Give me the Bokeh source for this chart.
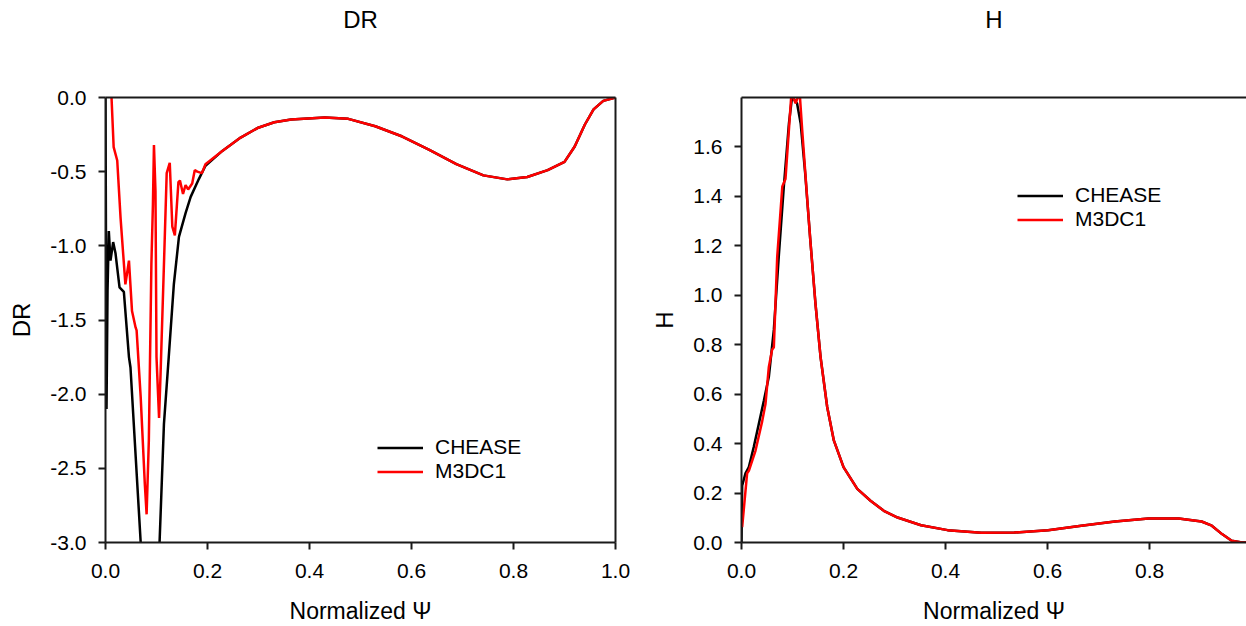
from bokeh.plotting import figure
from bokeh.models import (Range1d, FixedTicker, PrintfTickFormatter, LinearAxis,
                          Legend, LegendItem)
from bokeh.layouts import row
from bokeh.embed import file_html
from bokeh.resources import INLINE

# ---------------- data: DR panel ----------------
cheasse_dr_psi = [0.0, 0.002, 0.004, 0.0065, 0.0098, 0.015, 0.0196, 0.0275, 0.036, 0.046,
                  0.049, 0.069, 0.088, 0.106, 0.1146, 0.124, 0.134, 0.144, 0.157, 0.167,
                  0.183, 0.196, 0.229, 0.265, 0.298, 0.331, 0.364, 0.43, 0.476, 0.529,
                  0.582, 0.635, 0.688, 0.741, 0.788, 0.827, 0.867, 0.90, 0.92, 0.94,
                  0.957, 0.976, 1.0]
cheasse_dr = [0.0, -2.1, -1.3, -0.9, -1.1, -0.975, -1.05, -1.28, -1.31, -1.75,
              -1.82, -3.0, -4.2, -3.0, -2.2, -1.75, -1.26, -0.94, -0.78, -0.67,
              -0.55, -0.46, -0.36, -0.27, -0.206, -0.167, -0.148, -0.135, -0.144, -0.194,
              -0.263, -0.353, -0.449, -0.525, -0.552, -0.536, -0.49, -0.434, -0.33, -0.182,
              -0.08, -0.023, 0.0]

m3dc1_dr_psi = [0.0105, 0.0118, 0.016, 0.023, 0.0295, 0.039, 0.046, 0.052, 0.059, 0.061,
                0.069, 0.077, 0.0806, 0.085, 0.090, 0.093, 0.095, 0.098, 0.100, 0.105,
                0.108, 0.115, 0.120, 0.126, 0.131, 0.136, 0.143, 0.146, 0.152, 0.157,
                0.162, 0.170, 0.175, 0.180, 0.189, 0.196, 0.229, 0.265, 0.298, 0.331,
                0.364, 0.43, 0.476, 0.529, 0.582, 0.635, 0.688, 0.741, 0.788, 0.827,
                0.867, 0.90, 0.92, 0.94, 0.957, 0.976, 1.0]
m3dc1_dr = [0.2, 0.0, -0.335, -0.425, -0.81, -1.26, -1.10, -1.44, -1.55, -1.57,
            -2.02, -2.60, -2.81, -2.31, -1.12, -0.72, -0.32, -0.63, -1.75, -2.16,
            -1.86, -1.08, -0.51, -0.44, -0.87, -0.93, -0.57, -0.56, -0.65, -0.59,
            -0.62, -0.58, -0.49, -0.50, -0.51, -0.45, -0.36, -0.27, -0.206, -0.167,
            -0.148, -0.135, -0.144, -0.194, -0.263, -0.353, -0.449, -0.525, -0.552, -0.536,
            -0.49, -0.434, -0.33, -0.182, -0.08, -0.023, 0.0]

# ---------------- data: H panel ----------------
cheasse_h_psi = [0.0, 0.0013, 0.0078, 0.0144, 0.024, 0.034, 0.044, 0.0536, 0.0634, 0.073,
                 0.083, 0.093, 0.099, 0.104, 0.109, 0.116, 0.125, 0.135, 0.145, 0.155,
                 0.168, 0.181, 0.20, 0.227, 0.253, 0.279, 0.306, 0.352, 0.404, 0.470,
                 0.535, 0.601, 0.666, 0.732, 0.798, 0.857, 0.902, 0.922, 0.942, 0.961,
                 0.981, 0.99]
cheasse_h = [0.0, 0.23, 0.28, 0.305, 0.386, 0.48, 0.575, 0.67, 0.86, 1.155,
             1.44, 1.695, 1.80, 1.79, 1.776, 1.695, 1.49, 1.22, 0.966, 0.75,
             0.548, 0.413, 0.305, 0.217, 0.169, 0.128, 0.101, 0.070, 0.050, 0.039,
             0.040, 0.050, 0.068, 0.085, 0.097, 0.097, 0.085, 0.068, 0.034, 0.007,
             0.0, 0.0]

m3dc1_h_psi = [0.0013, 0.011, 0.0144, 0.0275, 0.0405, 0.047, 0.0536, 0.060, 0.0634, 0.070,
               0.080, 0.0862, 0.098, 0.106, 0.114, 0.119, 0.129, 0.135, 0.145, 0.155,
               0.168, 0.181, 0.20, 0.227, 0.253, 0.279, 0.306, 0.352, 0.404, 0.470,
               0.535, 0.601, 0.666, 0.732, 0.798, 0.857, 0.902, 0.922, 0.942, 0.961,
               0.981, 0.99]
m3dc1_h = [0.062, 0.28, 0.29, 0.372, 0.49, 0.56, 0.71, 0.78, 0.79, 1.155,
           1.44, 1.47, 1.82, 1.776, 1.82, 1.668, 1.385, 1.22, 0.966, 0.75,
           0.548, 0.413, 0.305, 0.217, 0.169, 0.128, 0.101, 0.070, 0.050, 0.039,
           0.040, 0.050, 0.068, 0.085, 0.097, 0.097, 0.085, 0.068, 0.034, 0.007,
           0.0, 0.0]

series_names = ["CHEASE", "M3DC1"]
series_colors = ["#000000", "#ff0000"]

dr_xticks = [0.0, 0.2, 0.4, 0.6, 0.8, 1.0]
dr_yticks = [0.0, -0.5, -1.0, -1.5, -2.0, -2.5, -3.0]
h_xticks = [0.0, 0.2, 0.4, 0.6, 0.8]
h_yticks = [0.0, 0.2, 0.4, 0.6, 0.8, 1.0, 1.2, 1.4, 1.6]

FONT = "Liberation Sans"


def style_axis(ax, ticks, label, label_size, standoff, tick_standoff):
    ax.ticker = FixedTicker(ticks=ticks)
    ax.formatter = PrintfTickFormatter(format="%.1f")
    ax.axis_line_width = 2
    ax.axis_line_color = "#1a1a1a"
    ax.major_tick_in = 0
    ax.major_tick_out = 7
    ax.major_tick_line_width = 2
    ax.major_tick_line_color = "#1a1a1a"
    ax.minor_tick_line_color = None
    ax.major_label_text_font = FONT
    ax.major_label_text_font_size = "21px"
    ax.major_label_text_color = "#000000"
    ax.major_label_standoff = tick_standoff
    ax.axis_label = label
    ax.axis_label_text_font = FONT
    ax.axis_label_text_font_size = label_size
    ax.axis_label_text_font_style = "normal"
    ax.axis_label_text_color = "#000000"
    ax.axis_label_standoff = standoff


def border_axis(p, side, label=None, standoff=0):
    ax = LinearAxis(ticker=FixedTicker(ticks=[]), axis_line_width=2,
                    axis_line_color="#1a1a1a", major_tick_line_color=None,
                    major_tick_in=0, major_tick_out=0, major_label_standoff=0,
                    minor_tick_line_color=None, major_label_text_font_size="0px")
    if label is not None:
        ax.axis_label = label
        ax.axis_label_text_font = FONT
        ax.axis_label_text_font_size = "24px"
        ax.axis_label_text_font_style = "normal"
        ax.axis_label_text_color = "#000000"
        ax.axis_label_standoff = standoff
    p.add_layout(ax, side)


def make_panel(width, x_end, y_range, xticks, yticks, title, ylabel,
               min_left, min_right, xs, ys, legend_loc, right_border):
    p = figure(width=width, height=626, output_backend="svg", toolbar_location=None,
               x_range=Range1d(0, x_end), y_range=Range1d(*y_range),
               min_border_left=min_left, min_border_right=min_right,
               min_border_top=97, min_border_bottom=84)
    p.title.visible = False
    p.outline_line_color = None
    p.xgrid.visible = False
    p.ygrid.visible = False
    p.background_fill_color = "white"
    p.border_fill_color = "white"
    style_axis(p.xaxis[0], xticks, "Normalized \u03a8", "23px", 17, 14)
    style_axis(p.yaxis[0], yticks, ylabel, "24px", 12, 12)
    border_axis(p, "above", title, 65)
    if right_border:
        border_axis(p, "right")
    items = []
    for name, color, x, y in zip(series_names, series_colors, xs, ys):
        r = p.line(x, y, line_color=color, line_width=2.5)
        items.append(LegendItem(label=name, renderers=[r]))
    legend = Legend(items=items, location=legend_loc, glyph_width=46,
                    glyph_height=23, label_height=23, label_standoff=12,
                    spacing=0, padding=0, margin=0, border_line_color=None,
                    background_fill_alpha=0, label_text_font=FONT,
                    label_text_font_size="21px", label_text_color="#000000")
    p.add_layout(legend)
    return p


p1 = make_panel(633, 1.0, (-3.0, 0.0), dr_xticks, dr_yticks, "DR", "DR", 105, 18,
                [cheasse_dr_psi, m3dc1_dr_psi], [cheasse_dr, m3dc1_dr], (272, 59), True)
p2 = make_panel(613, 0.99, (0.0, 1.8), h_xticks, h_yticks, "H", "H", 108, 0,
                [cheasse_h_psi, m3dc1_h_psi], [cheasse_h, m3dc1_h], (276, 311), False)

layout = row(p1, p2, spacing=0)
open("out.html", "w").write(file_html(layout, INLINE))
